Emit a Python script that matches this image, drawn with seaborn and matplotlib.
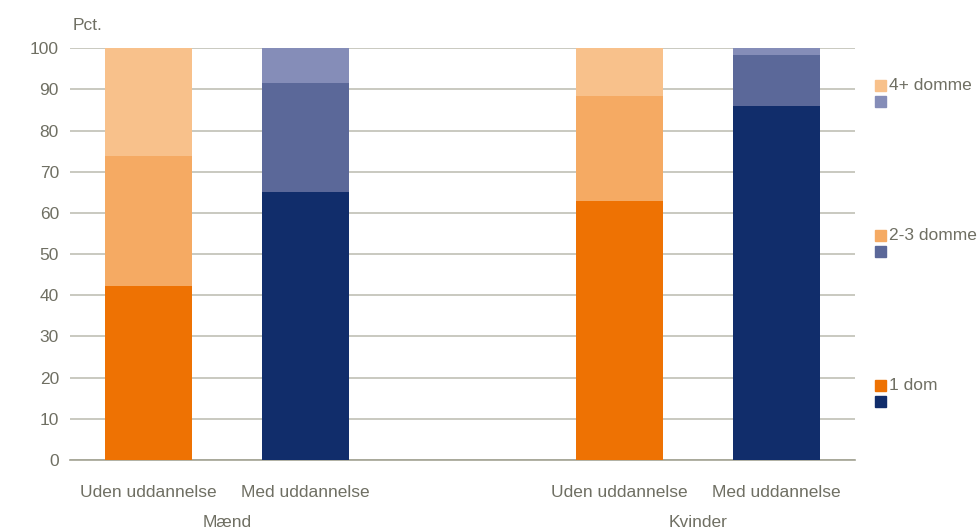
import numpy as np
import pandas as pd
import matplotlib.pyplot as plt
import matplotlib.patches as mpatches
import matplotlib.transforms as mtransforms
import seaborn as sns

sns.set_style("white")
plt.rcParams["font.family"] = ["Liberation Sans", "DejaVu Sans"]

# ---- data (pct.) ----
groups = ["Mænd", "Mænd", "Kvinder", "Kvinder"]
education = ["Uden uddannelse", "Med uddannelse", "Uden uddannelse", "Med uddannelse"]
one_dom = [42.3, 65.0, 62.9, 85.9]
two_three = [31.5, 26.5, 25.5, 12.5]
four_plus = [26.2, 8.5, 11.6, 1.6]
levels = ["1 dom", "2-3 domme", "4+ domme"]

# colours: orange = uden uddannelse, navy = med uddannelse
colors = {
    "1 dom": {"Uden uddannelse": "#EE7203", "Med uddannelse": "#112D6B"},
    "2-3 domme": {"Uden uddannelse": "#F5AA63", "Med uddannelse": "#5B6899"},
    "4+ domme": {"Uden uddannelse": "#F8C18B", "Med uddannelse": "#858DB8"},
}
text_col = "#6f6f63"

group_order = ["Mænd", "Kvinder"]
edu_order = ["Uden uddannelse", "Med uddannelse"]

df = pd.DataFrame({"group": groups, "education": education,
                   "1 dom": one_dom, "2-3 domme": two_three, "4+ domme": four_plus})
df["pos"] = [group_order.index(g) * 3 + edu_order.index(e)
             for g, e in zip(df["group"], df["education"])]
df["cum1"] = df["1 dom"]
df["cum2"] = df["cum1"] + df["2-3 domme"]
df["cum3"] = df["cum2"] + df["4+ domme"]

fig = plt.figure(figsize=(9.78, 5.3), dpi=100)
ax = fig.add_axes([0.0716, 0.132, 0.8026, 0.777])

# stacked bars drawn as overlaid cumulative bars (top layer first)
for col, lev in [("cum3", "4+ domme"), ("cum2", "2-3 domme"), ("cum1", "1 dom")]:
    sns.barplot(data=df, x="pos", y=col, hue="education", palette=colors[lev],
                native_scale=True, dodge=False, width=0.555, linewidth=0,
                saturation=1, legend=False, ax=ax, zorder=3)

ax.set_xlim(-0.5, 4.5)
ax.set_ylim(0, 100)
ax.set_yticks(np.arange(0, 101, 10))
ax.yaxis.grid(True, color="#c9c9c0", linewidth=1.4, zorder=0)
ax.set_axisbelow(True)
for s in ["top", "right", "left"]:
    ax.spines[s].set_visible(False)
ax.spines["bottom"].set_color("#a3a394")
ax.spines["bottom"].set_linewidth(1.2)
ax.tick_params(axis="both", length=0, labelsize=12.5, colors=text_col, pad=8)
ax.tick_params(axis="x", pad=18)
ax.set_xticks(df["pos"])
ax.set_xticklabels(df["education"])
ax.set_xlabel("")
ax.set_ylabel("")

# group labels
trans = mtransforms.blended_transform_factory(ax.transData, ax.transAxes)
for g in group_order:
    center = df.loc[df["group"] == g, "pos"].mean()
    ax.text(center, -0.152, g, transform=trans, ha="center", va="center",
            fontsize=12.5, color=text_col)

ax.text(0.003, 1.055, "Pct.", transform=ax.transAxes, ha="left", va="center",
        fontsize=12.5, color=text_col)

# custom legend: orange square + label, navy square below
W, H = 978, 530
leg_y = {"4+ domme": 80, "2-3 domme": 230, "1 dom": 380}
for lev, ytop in leg_y.items():
    for i, edu in enumerate(edu_order):
        y0 = ytop + i * 16
        fig.patches.append(mpatches.Rectangle((875 / W, 1 - (y0 + 11) / H), 11 / W, 11 / H,
                                              transform=fig.transFigure,
                                              color=colors[lev][edu]))
    fig.text(889 / W, 1 - (ytop + 5) / H, lev, ha="left", va="center",
             fontsize=12.5, color=text_col)

plt.savefig("out.png", dpi=100)
